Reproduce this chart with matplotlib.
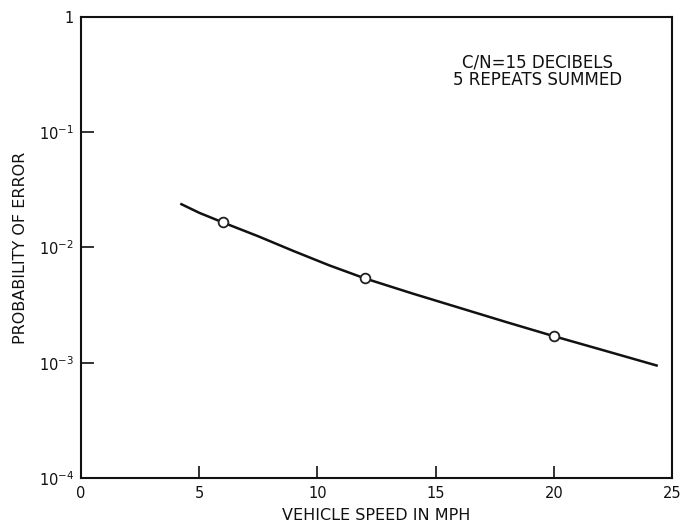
import matplotlib
matplotlib.use("Agg")
import matplotlib.pyplot as plt
from matplotlib.ticker import FixedLocator, NullLocator

plt.rcParams['font.family'] = ['DejaVu Sans']
plt.rcParams['mathtext.fontset'] = 'custom'
plt.rcParams['mathtext.rm'] = 'DejaVu Sans'
plt.rcParams['mathtext.it'] = 'DejaVu Sans'

# Curve
curve_speed = [4.2, 5.0, 6.0, 7.5, 9.0, 10.5, 12.0, 14.0, 16.0, 18.0, 20.0, 22.0, 24.4]
curve_perr = [2.4e-2, 2.0e-2, 1.65e-2, 1.25e-2, 9.3e-3, 7.0e-3, 5.4e-3, 4.0e-3, 3.0e-3, 2.25e-3, 1.7e-3, 1.3e-3, 9.4e-4]

# Measured points (open circles)
pt_speed = [6, 12, 20]
pt_perr = [1.65e-2, 5.4e-3, 1.7e-3]

xticks = [0, 5, 10, 15, 20, 25]
xtick_labels = ['0', '5', '10', '15', '20', '25']
yticks = [1e-4, 1e-3, 1e-2, 1e-1, 1]
ytick_labels = ['10$^{-4}$', '10$^{-3}$', '10$^{-2}$', '10$^{-1}$', '1']

fig = plt.figure(figsize=(6.82, 5.26), dpi=100)
ax = fig.add_axes([0.1188, 0.0913, 0.8665, 0.8764])

ax.plot(curve_speed, curve_perr, color='#111111', lw=1.8, solid_capstyle='butt')
ax.plot(pt_speed, pt_perr, linestyle='none', marker='o', ms=7, mfc='white', mec='#222222', mew=1.3)

ax.set_yscale('log')
ax.set_xlim(0, 25)
ax.set_ylim(1e-4, 1)
ax.xaxis.set_major_locator(FixedLocator(xticks))
ax.set_xticklabels(xtick_labels)
ax.yaxis.set_major_locator(FixedLocator(yticks))
ax.set_yticklabels(ytick_labels)
ax.yaxis.set_minor_locator(NullLocator())
ax.xaxis.set_minor_locator(NullLocator())

ax.tick_params(direction='in', length=9, width=1.2, labelsize=10.5, colors='#111111')
ax.tick_params(axis='x', pad=6)
ax.tick_params(axis='y', pad=5)
for s in ax.spines.values():
    s.set_linewidth(1.5)
    s.set_color('#111111')

ax.set_xlabel('VEHICLE SPEED IN MPH', fontsize=11.5, labelpad=5, color='#111111')
ax.set_ylabel('PROBABILITY OF ERROR', fontsize=11.5, labelpad=8, color='#111111')

ax.text(0.772, 0.883, 'C/N=15 DECIBELS\n5 REPEATS SUMMED', transform=ax.transAxes,
        ha='center', va='center', fontsize=12, linespacing=0.95, color='#111111')

fig.savefig('out.png', dpi=100)
